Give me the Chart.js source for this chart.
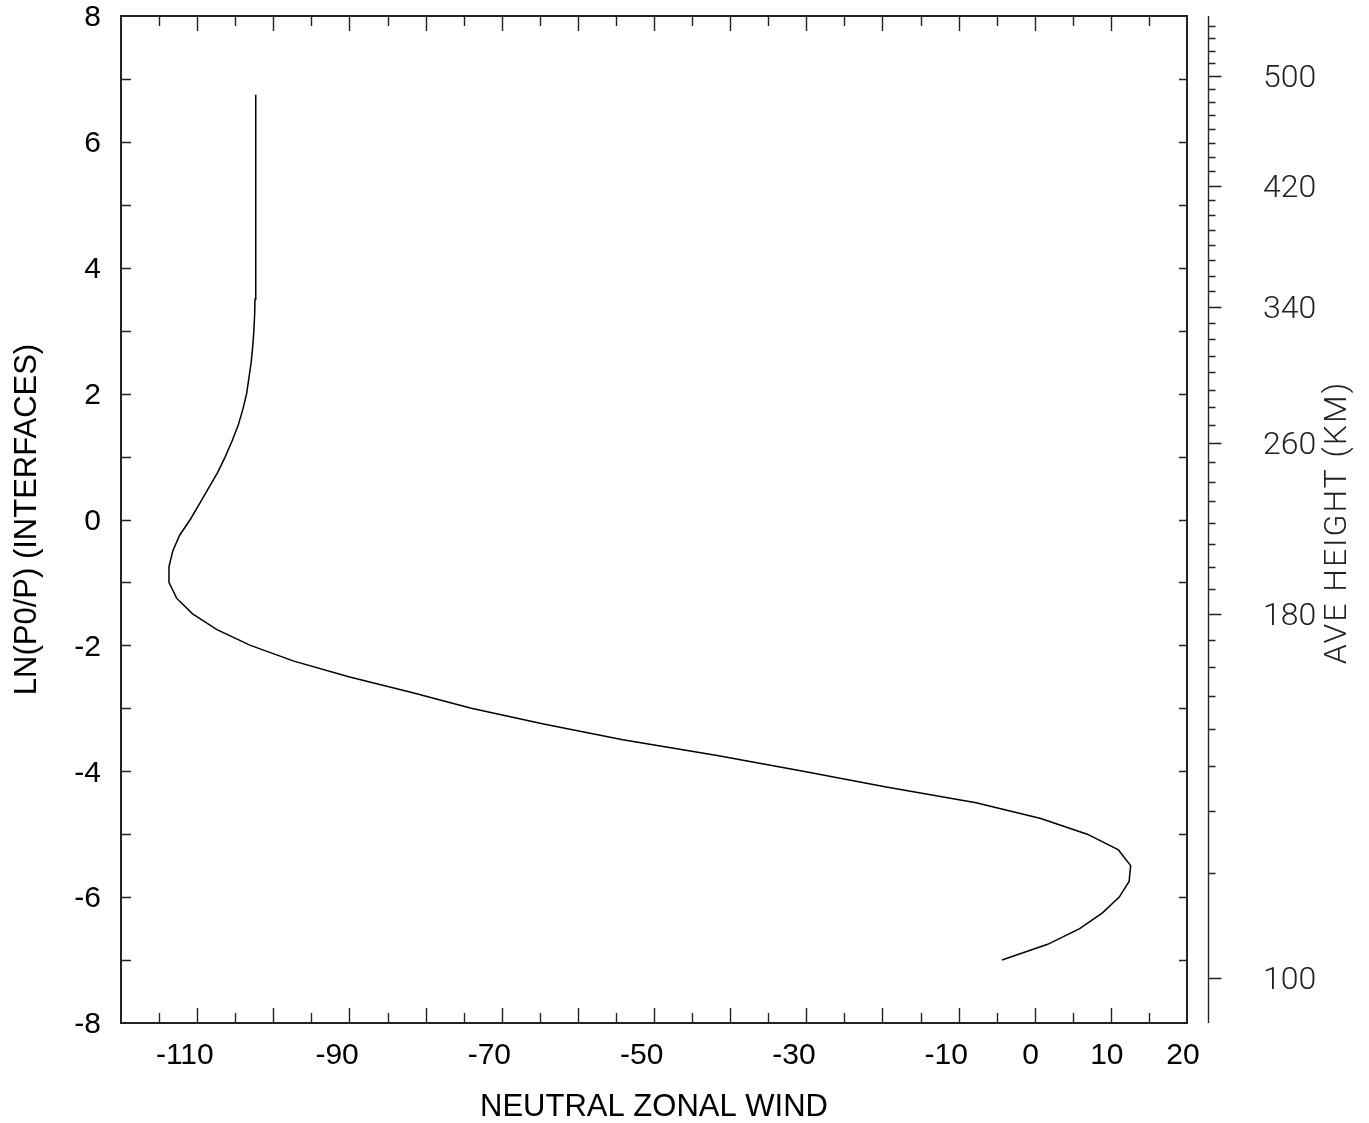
<!DOCTYPE html>
<html>
<head>
<meta charset="utf-8">
<script src="https://cdn.jsdelivr.net/npm/chart.js@4.4.1/dist/chart.umd.min.js"></script>
<style>
html,body{margin:0;padding:0;background:#fff;}
#wrap{width:1369px;height:1123px;position:relative;}
canvas{display:block;}
</style>
</head>
<body>
<div id="wrap"><canvas id="c" width="1369" height="1123"></canvas></div>
<script>
// ---- data ----
const lnpLevels = [-7.0,-6.75,-6.5,-6.25,-6.0,-5.75,-5.5,-5.25,-5.0,-4.75,-4.5,-4.25,-4.0,-3.75,-3.5,-3.25,-3.0,-2.75,-2.5,-2.25,-2.0,-1.75,-1.5,-1.25,-1.0,-0.75,-0.5,-0.25,0.0,0.25,0.5,0.75,1.0,1.25,1.5,1.75,2.0,2.25,2.5,2.75,3.0,3.25,3.5,3.75,4.0,4.25,4.5,4.75,5.0,5.25,5.5,5.75,6.0,6.25,6.5,6.75];
const zonalWind = [-4.3,1.7,5.9,8.9,11.1,12.4,12.6,11.0,6.9,0.8,-7.7,-19.5,-30.4,-41.7,-54.1,-64.5,-74.0,-81.8,-90.1,-97.3,-103.0,-107.4,-110.6,-112.7,-113.7,-113.7,-113.2,-112.3,-110.9,-109.7,-108.5,-107.3,-106.3,-105.4,-104.6,-104.0,-103.5,-103.2,-102.9,-102.7,-102.55,-102.45,-102.4,-102.35,-102.3,-102.3,-102.3,-102.3,-102.3,-102.3,-102.3,-102.3,-102.3,-102.3,-102.3,-102.3];

const xTickLabels = [-110,-90,-70,-50,-30,-10,0,10,20];
const xMinorTicks = [-115,-110,-105,-100,-95,-90,-85,-80,-75,-70,-65,-60,-55,-50,-45,-40,-35,-30,-25,-20,-15,-10,-5,0,5,10,15];
const yTickLabels = [-8,-6,-4,-2,0,2,4,6,8];
const yMinorTicks = [-7,-6,-5,-4,-3,-2,-1,0,1,2,3,4,5,6,7];

// average height (km) and the ln(p0/p) level where it sits on the right axis
const heightKm  = [100,110,120,130,140,150,160,170,180,190,200,210,220,230,240,250,260,270,280,290,300,310,320,330,340,350,360,370,380,390,400,410,420,430,440,450,460,470,480,490,500,510,520,530,540];
const heightLnp = [-7.28,-5.61,-4.63,-3.91,-3.33,-2.81,-2.34,-1.91,-1.50,-1.10,-0.75,-0.39,-0.05,0.29,0.59,0.91,1.21,1.50,1.79,2.06,2.34,2.60,2.87,3.13,3.38,3.63,3.87,4.13,4.36,4.60,4.84,5.07,5.30,5.53,5.76,5.98,6.20,6.42,6.63,6.84,7.05,7.26,7.45,7.65,7.84];
const heightLabels = [100,180,260,340,420,500];

const TXT = "'Liberation Sans', Arial, sans-serif";
const THIN = "Roboto, 'DejaVu Sans', sans-serif";

function zeroPad(s){ s.paddingTop=0; s.paddingBottom=0; s.paddingLeft=0; s.paddingRight=0; }

const framePlugin = {
  id: 'frame',
  afterDraw(chart) {
    const {ctx, chartArea:{left,right,top,bottom}, scales:{x,y,y2}} = chart;
    ctx.save();
    ctx.strokeStyle = '#222';
    ctx.lineWidth = 2;
    ctx.strokeRect(left, top, right-left, bottom-top);
    ctx.lineWidth = 1.4;
    ctx.beginPath();
    xMinorTicks.forEach(v => {
      const px = Math.round(x.getPixelForValue(v)) + 0.5;
      const len = (v % 10 === 0) ? 15 : 10;
      ctx.moveTo(px, bottom); ctx.lineTo(px, bottom - len);
      ctx.moveTo(px, top); ctx.lineTo(px, top + len);
    });
    yMinorTicks.forEach(v => {
      const py = Math.round(y.getPixelForValue(v)) + 0.5;
      ctx.moveTo(left, py); ctx.lineTo(left + 10, py);
      ctx.moveTo(right, py); ctx.lineTo(right - 8, py);
    });
    ctx.stroke();
    // right height axis
    const ax = right + 21.5;
    ctx.beginPath();
    ctx.moveTo(ax, top); ctx.lineTo(ax, bottom);
    heightKm.forEach((h, i) => {
      const py = Math.round(y2.getPixelForValue(heightLnp[i])) + 0.5;
      const len = heightLabels.includes(h) ? 13 : 7;
      ctx.moveTo(ax, py); ctx.lineTo(ax + len, py);
    });
    ctx.stroke();
    // right axis title
    ctx.translate(1338, (top + bottom) / 2 + 3);
    ctx.rotate(-Math.PI / 2);
    ctx.fillStyle = '#222';
    ctx.font = "300 32px " + THIN;
    ctx.textAlign = 'center';
    ctx.textBaseline = 'middle';
    try { ctx.letterSpacing = '2px'; } catch(e) {}
    ctx.fillText('AVE HEIGHT (KM)', 0, 0);
    ctx.restore();
  }
};

new Chart(document.getElementById('c'), {
  type: 'scatter',
  data: {
    datasets: [{
      data: lnpLevels.map((p, i) => ({x: zonalWind[i], y: p})),
      showLine: true,
      borderColor: '#000',
      borderWidth: 1.5,
      pointRadius: 0,
      tension: 0,
      fill: false
    }]
  },
  options: {
    responsive: false,
    animation: false,
    devicePixelRatio: 1,
    layout: {padding: {top: 16, left: 0, right: 0, bottom: 0}},
    plugins: {legend: {display: false}, tooltip: {enabled: false}},
    scales: {
      x: {
        type: 'linear', position: 'bottom', min: -120, max: 20,
        afterBuildTicks: s => { s.ticks = xTickLabels.map(v => ({value: v})); },
        afterFit: s => { s.height = 100; zeroPad(s); },
        grid: {display: false, drawTicks: false},
        border: {display: false},
        ticks: {
          autoSkip: false, maxRotation: 0, minRotation: 0, padding: 15, labelOffset: -4,
          color: '#000', font: {family: TXT, size: 30},
          callback: v => (v < 0 ? String(v) + '  ' : String(v))
        },
        title: {display: true, text: 'NEUTRAL ZONAL WIND', color: '#000',
                font: {family: TXT, size: 31}, padding: {top: 0, bottom: -3}}
      },
      y: {
        type: 'linear', position: 'left', min: -8, max: 8,
        afterBuildTicks: s => { s.ticks = yTickLabels.map(v => ({value: v})); },
        afterFit: s => { s.width = 121; zeroPad(s); },
        grid: {display: false, drawTicks: false},
        border: {display: false},
        ticks: {autoSkip: false, padding: 20, labelOffset: 2, color: '#000', font: {family: TXT, size: 30}},
        title: {display: true, text: 'LN(P0/P) (INTERFACES)', color: '#000',
                font: {family: TXT, size: 31}, padding: {top: 9, bottom: 0}}
      },
      y2: {
        type: 'linear', position: 'right', min: -8, max: 8,
        afterBuildTicks: s => { s.ticks = heightLnp.map(v => ({value: v})); },
        afterFit: s => { s.width = 182; zeroPad(s); },
        grid: {display: false, drawTicks: false},
        border: {display: false},
        ticks: {
          autoSkip: false, padding: 76, labelOffset: 3, color: '#222',
          font: {family: THIN, size: 32, weight: '300'},
          callback: (v, i) => (heightLabels.includes(heightKm[i]) ? String(heightKm[i]) : '')
        }
      }
    }
  },
  plugins: [framePlugin]
});
</script>
</body>
</html>
